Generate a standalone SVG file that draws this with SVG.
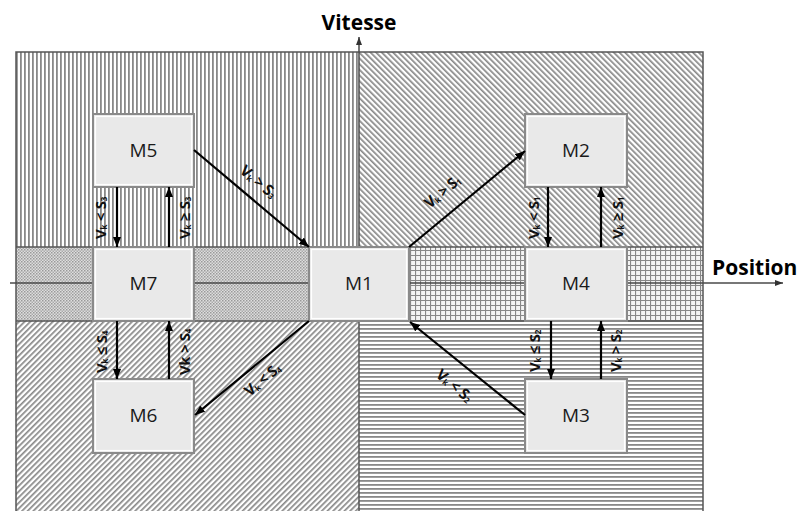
<svg xmlns="http://www.w3.org/2000/svg" width="800" height="511" viewBox="0 0 800 511">
<style>
.box{fill:#e9e9e9;stroke:#8a8a8a;stroke-width:2}
.inner{fill:none;stroke:#ffffff;stroke-width:1.2}
.nlabel{font-family:"Open Sans","Liberation Sans",sans-serif;font-size:19px;fill:#1a1a1a;text-anchor:middle}
.axis{stroke:#4a4a4a;stroke-width:1.5;fill:none}
.sep{stroke:#555;stroke-width:1.5;fill:none}
.edge{stroke:#000;stroke-width:2.2;fill:none}
.elabel{font-family:"Open Sans","Liberation Sans",sans-serif;font-size:15px;font-weight:bold;fill:#111;text-anchor:middle;dominant-baseline:central;letter-spacing:-0.3px}
.sub{font-size:8px}
.title{font-family:"Open Sans","Liberation Sans",sans-serif;font-size:21px;font-weight:bold;fill:#000}
</style>
<defs>
<pattern id="pv" patternUnits="userSpaceOnUse" width="4" height="4"><rect x="0" y="0" width="1.8" height="4" fill="#888"/></pattern>
<pattern id="ph" patternUnits="userSpaceOnUse" width="4" height="4"><rect x="0" y="0" width="4" height="1.8" fill="#888"/></pattern>
<pattern id="pbs" patternUnits="userSpaceOnUse" width="4" height="4" patternTransform="rotate(-45)"><rect x="0" y="0" width="1.7" height="4" fill="#888"/></pattern>
<pattern id="pfs" patternUnits="userSpaceOnUse" width="4" height="4" patternTransform="rotate(45)"><rect x="0" y="0" width="1.7" height="4" fill="#888"/></pattern>
<pattern id="pck" patternUnits="userSpaceOnUse" width="3" height="3"><rect width="3" height="3" fill="#dedede"/><rect x="0" y="0" width="1.5" height="1.5" fill="#999"/><rect x="1.5" y="1.5" width="1.5" height="1.5" fill="#aaa"/></pattern>
<pattern id="pgr" patternUnits="userSpaceOnUse" width="5" height="5"><rect width="5" height="5" fill="#f4f4f4"/><path d="M0 0.5H5M0.5 0V5" stroke="#888" stroke-width="1.2"/></pattern>
<marker id="ah" viewBox="0 0 10 8" refX="10" refY="4" markerWidth="10" markerHeight="8" markerUnits="userSpaceOnUse" orient="auto"><path d="M0 0L10 4L0 8Z" fill="#000"/></marker>
<marker id="axh" viewBox="0 0 8 6" refX="8" refY="3" markerWidth="8" markerHeight="6" markerUnits="userSpaceOnUse" orient="auto"><path d="M0 0L8 3L0 6Z" fill="#333"/></marker>
</defs>
<rect width="800" height="511" fill="#fff"/>
<g id="regions">
<rect x="16" y="52" width="343" height="195" fill="url(#pv)"/>
<rect x="359" y="52" width="344" height="195" fill="url(#pbs)"/>
<rect x="16" y="247" width="293" height="74" fill="url(#pck)"/>
<rect x="409" y="247" width="294" height="74" fill="url(#pgr)"/>
<rect x="16" y="321" width="343" height="190" fill="url(#pfs)"/>
<rect x="359" y="321" width="344" height="190" fill="url(#ph)"/>
<path class="sep" d="M16 511V52H703V511M16 247H703M16 321H703M359 321V511"/>
</g>
<g id="axes">
<line class="axis" x1="359" y1="247" x2="359" y2="37" marker-end="url(#axh)"/>
<line class="axis" x1="10" y1="283" x2="783" y2="283" marker-end="url(#axh)"/>
<text class="title" x="359" y="30" text-anchor="middle">Vitesse</text>
<text class="title" x="712" y="275">Position</text>
</g>
<g id="M5"><rect class="box" x="93" y="114" width="101" height="73"/><rect class="inner" x="95.5" y="116.5" width="96" height="68"/><text class="nlabel" x="143.5" y="157">M5</text></g>
<g id="M2"><rect class="box" x="525" y="114" width="102" height="73"/><rect class="inner" x="527.5" y="116.5" width="97" height="68"/><text class="nlabel" x="576" y="157">M2</text></g>
<g id="M7"><rect class="box" x="93" y="247" width="101" height="74"/><rect class="inner" x="95.5" y="249.5" width="96" height="69"/><text class="nlabel" x="143.5" y="290">M7</text></g>
<g id="M1"><rect class="box" x="309" y="247" width="100" height="74"/><rect class="inner" x="311.5" y="249.5" width="95" height="69"/><text class="nlabel" x="359" y="290">M1</text></g>
<g id="M4"><rect class="box" x="525" y="247" width="102" height="74"/><rect class="inner" x="527.5" y="249.5" width="97" height="69"/><text class="nlabel" x="576" y="290">M4</text></g>
<g id="M6"><rect class="box" x="93" y="379" width="101" height="74"/><rect class="inner" x="95.5" y="381.5" width="96" height="69"/><text class="nlabel" x="143.5" y="422">M6</text></g>
<g id="M3"><rect class="box" x="525" y="379" width="102" height="74"/><rect class="inner" x="527.5" y="381.5" width="97" height="69"/><text class="nlabel" x="576" y="422">M3</text></g>
<g id="connectors">
<line class="edge" x1="194" y1="150" x2="309" y2="247" marker-end="url(#ah)"/>
<line class="edge" x1="409" y1="247" x2="525" y2="151" marker-end="url(#ah)"/>
<line class="edge" x1="548" y1="187" x2="548" y2="247" marker-end="url(#ah)"/>
<line class="edge" x1="601" y1="247" x2="601" y2="187" marker-end="url(#ah)"/>
<line class="edge" x1="117" y1="187" x2="117" y2="247" marker-end="url(#ah)"/>
<line class="edge" x1="169" y1="247" x2="169" y2="187" marker-end="url(#ah)"/>
<line class="edge" x1="117" y1="321" x2="117" y2="379" marker-end="url(#ah)"/>
<line class="edge" x1="169" y1="379" x2="169" y2="321" marker-end="url(#ah)"/>
<line class="edge" x1="309" y1="321" x2="195" y2="415" marker-end="url(#ah)"/>
<line class="edge" x1="551" y1="321" x2="551" y2="379" marker-end="url(#ah)"/>
<line class="edge" x1="601" y1="379" x2="601" y2="321" marker-end="url(#ah)"/>
<line class="edge" x1="525" y1="415" x2="410" y2="322" marker-end="url(#ah)"/>
<text class="elabel" transform="translate(259,181) rotate(40)">V<tspan class="sub" baseline-shift="-3">k</tspan> &gt; S<tspan class="sub" baseline-shift="-3">3</tspan></text>
<text class="elabel" transform="translate(442,191) rotate(-40)">V<tspan class="sub" baseline-shift="-3">k</tspan> &gt; S<tspan class="sub" baseline-shift="-3">1</tspan></text>
<text class="elabel" transform="translate(262,379) rotate(-40)">V<tspan class="sub" baseline-shift="-3">k</tspan> &lt; S<tspan class="sub" baseline-shift="-3">4</tspan></text>
<text class="elabel" transform="translate(455,385) rotate(40)">V<tspan class="sub" baseline-shift="-3">k</tspan> &lt; S<tspan class="sub" baseline-shift="-3">2</tspan></text>
<text class="elabel" transform="translate(100,218) rotate(-90)">V<tspan class="sub" baseline-shift="-3">k</tspan> &lt; S<tspan class="sub" baseline-shift="-3">3</tspan></text>
<text class="elabel" transform="translate(184,218) rotate(-90)">V<tspan class="sub" baseline-shift="-3">k</tspan> ≥ S<tspan class="sub" baseline-shift="-3">3</tspan></text>
<text class="elabel" transform="translate(533,218) rotate(-90)">V<tspan class="sub" baseline-shift="-3">k</tspan> &lt; S<tspan class="sub" baseline-shift="-3">1</tspan></text>
<text class="elabel" transform="translate(617,218) rotate(-90)">V<tspan class="sub" baseline-shift="-3">k</tspan> ≥ S<tspan class="sub" baseline-shift="-3">1</tspan></text>
<text class="elabel" transform="translate(101,352) rotate(-90)">V<tspan class="sub" baseline-shift="-3">k</tspan> ≤ S<tspan class="sub" baseline-shift="-3">4</tspan></text>
<text class="elabel" transform="translate(184,352) rotate(-90)">Vk &gt; S<tspan class="sub" baseline-shift="-3">4</tspan></text>
<text class="elabel" transform="translate(534,351) rotate(-90)">V<tspan class="sub" baseline-shift="-3">k</tspan> ≤ S<tspan class="sub" baseline-shift="-3">2</tspan></text>
<text class="elabel" transform="translate(615,351) rotate(-90)">V<tspan class="sub" baseline-shift="-3">k</tspan> &gt; S<tspan class="sub" baseline-shift="-3">2</tspan></text>
</g>
</svg>
